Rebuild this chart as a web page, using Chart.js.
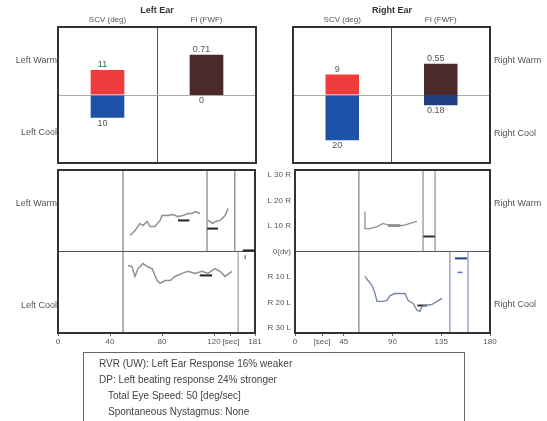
<!DOCTYPE html>
<html>
<head>
<meta charset="utf-8">
<script src="https://cdn.jsdelivr.net/npm/chart.js@4/dist/chart.umd.min.js"></script>
<style>
  body { margin: 0; background: #fff; font-family: "Liberation Sans", Arial, sans-serif; }
  #wrap { position: relative; width: 547px; height: 421px; overflow: hidden; }
  canvas { position: absolute; left: 0; top: 0; }
  .lbl { position: absolute; font-size: 9px; color: #555; white-space: nowrap; line-height: 10px; }
  .ttl { position: absolute; font-size: 9px; font-weight: bold; color: #333; transform: translateX(-50%); line-height: 10px; }
  #info { position: absolute; left: 83px; top: 352px; width: 382px; height: 75px; border: 1px solid #666;
          font-size: 10px; color: #444; line-height: 16px; padding: 3px 0 0 15px; box-sizing: border-box; }
</style>
</head>
<body>
<div id="wrap">
  <canvas id="topLeft" width="547" height="421"></canvas>
  <canvas id="topRight" width="547" height="421"></canvas>
  <canvas id="botLeft" width="547" height="421"></canvas>
  <canvas id="botRight" width="547" height="421"></canvas>

  <div class="ttl" style="left:157px;top:5px">Left Ear</div>
  <div class="ttl" style="left:392px;top:5px">Right Ear</div>
  <div class="lbl" style="right:490px;top:55px">Left Warm</div>
  <div class="lbl" style="right:490px;top:127px">Left Cool</div>
  <div class="lbl" style="left:494px;top:55px">Right Warm</div>
  <div class="lbl" style="left:494px;top:128px">Right Cool</div>
  <div class="lbl" style="right:490px;top:198px">Left Warm</div>
  <div class="lbl" style="right:490px;top:300px">Left Cool</div>
  <div class="lbl" style="left:494px;top:198px">Right Warm</div>
  <div class="lbl" style="left:494px;top:299px">Right Cool</div>

  <div id="info">
    RVR (UW): Left Ear Response 16% weaker<br>
    DP: Left beating response 24% stronger<br>
    <span style="padding-left:9px">Total Eye Speed: 50 [deg/sec]</span><br>
    <span style="padding-left:9px">Spontaneous Nystagmus: None</span>
  </div>
</div>

<script>
// top panels: SCV (deg) and FI (FWF), warm up / cool down
const earCategories = ['SCV (deg)', 'FI (FWF)'];
const leftWarm = [11, 0.71];
const leftCool = [10, 0];
const rightWarm = [9, 0.55];
const rightCool = [20, 0.18];

// bottom panels: eye speed over time
const yTicks = [30, 20, 10, 0, -10, -20, -30];
const yTickLabels = ['L 30 R', 'L 20 R', 'L 10 R', '0(dv)', 'R 10 L', 'R 20 L', 'R 30 L'];
const leftXTicks = [0, 40, 80, 120, 133, 151.5];
const leftXLabels = ['0', '40', '80', '120', '[sec]', '181'];
const rightXTicks = [0, 25, 45, 90, 135, 180];
const rightXLabels = ['0', '[sec]', '45', '90', '135', '180'];

const leftWarmSec1 = [55.4, 59.2, 63, 65.4, 68.5, 70.8, 74.6, 78.5, 80, 84.6, 88.5, 92.3, 96, 100, 103, 105.4, 109.2];
const leftWarmVal1 = [6.3, 8.2, 11, 10.2, 11.8, 9.8, 9.8, 12.2, 14.1, 14.1, 14.5, 13.7, 14.1, 14.9, 14.9, 15.7, 14.9];
const leftWarmSec2 = [115.4, 119, 121, 124.6, 128.5, 130.8];
const leftWarmVal2 = [12.2, 11, 11.8, 12.2, 14.1, 16.9];
const leftCoolSec = [53.8, 56.9, 59.2, 61.5, 65.4, 68.5, 72.3, 76.2, 78.5, 82.3, 86.2, 90, 95.4, 100, 105.4, 110.8, 115.4, 120.8, 124.6, 128.5, 133.8];
const leftCoolVal = [-5.5, -5.9, -9.8, -6.7, -4.7, -5.9, -6.7, -11.4, -12.5, -11.4, -11.4, -9.8, -8.6, -7.8, -8.6, -7.8, -8.6, -6.7, -7.8, -9.8, -7.8];

const rightWarmSec = [64.6, 64.6, 69.2, 75.7, 81.3, 87.7, 94.2, 99.7, 106.2, 112.6];
const rightWarmVal = [15.7, 9, 9, 9.8, 11, 10.2, 10.2, 10.2, 11, 11.8];
const rightCoolSec = [64.6, 67.4, 71.1, 73.9, 75.7, 81.3, 84.9, 87.7, 92.3, 97, 101.6, 104.3, 109, 112.6, 115.4, 117.3, 120, 126.5, 131.1, 135.7];
const rightCoolVal = [-9.8, -11.4, -13.3, -16.5, -19.6, -19.6, -19.2, -17.3, -16.5, -16.5, -16.5, -19.2, -20.4, -23.1, -23.5, -21.6, -21.2, -20.8, -19.6, -18.4];

// analysis windows (sec) and average markers [from, to, value]
const leftFullLines = [50];
const leftWarmLines = [114.6, 136];
const leftCoolLines = [138.5];
const leftMarks = [[92.3, 101, 12.2], [114.6, 123, 9], [109, 118.5, -9.4], [142, 151.5, 0.4]];
const rightFullLines = [59];
const rightWarmLines = [118.2, 129.3];
const rightCoolLines = [143, 159.7];
const rightMarks = [[86, 97, 10.2], [118.2, 129.3, 5.9], [113, 122, -21.2], [147.7, 158.8, -2.7]];
const rightSmallMarks = [[150, 154.6, -8.2]];

Chart.defaults.font.family = '"Liberation Sans", Arial, sans-serif';
Chart.defaults.font.size = 8;
Chart.defaults.color = '#555';

const frame = {
  id: 'frame',
  afterDraw(chart) {
    const { ctx, chartArea: a } = chart;
    ctx.save();
    ctx.strokeStyle = '#333';
    ctx.lineWidth = 2;
    ctx.strokeRect(a.left, a.top, a.right - a.left, a.bottom - a.top);
    ctx.restore();
  }
};

// value text above warm bars and below cool bars
const barValues = {
  id: 'barValues',
  afterDatasetsDraw(chart) {
    const ctx = chart.ctx;
    ctx.save();
    ctx.font = '9px "Liberation Sans", Arial, sans-serif';
    ctx.fillStyle = '#555';
    ctx.textAlign = 'center';
    chart.data.datasets.forEach((ds, di) => {
      chart.getDatasetMeta(di).data.forEach((bar, i) => {
        if (ds.data[i] === null) return;
        const txt = String(ds.raw[i]);
        const top = Math.min(bar.y, bar.base), bottom = Math.max(bar.y, bar.base);
        if (ds.warm) {
          ctx.textBaseline = 'bottom';
          ctx.fillText(txt, bar.x - 5, top - 1);
        } else {
          ctx.textBaseline = 'top';
          ctx.fillText(txt, bar.x - 5, bottom + 1);
        }
      });
    });
    ctx.restore();
  }
};

function earChart(id, warm, cool, left, right, fiCoolColor) {
  new Chart(document.getElementById(id), {
    type: 'bar',
    data: {
      labels: earCategories,
      datasets: [
        { data: [warm[0], null], raw: warm, warm: true, backgroundColor: '#ef3c3c', yAxisID: 'y' },
        { data: [-cool[0], null], raw: cool, warm: false, backgroundColor: '#1c52a8', yAxisID: 'y' },
        { data: [null, warm[1]], raw: warm, warm: true, backgroundColor: '#4b2a29', yAxisID: 'yFI' },
        { data: [null, -cool[1]], raw: cool, warm: false, backgroundColor: fiCoolColor, yAxisID: 'yFI' }
      ]
    },
    options: {
      responsive: false,
      animation: false,
      layout: { padding: { left: left, right: 547 - right, top: 0, bottom: 421 - 163 } },
      datasets: { bar: { grouped: false, barPercentage: 0.34, categoryPercentage: 1, borderWidth: 0 } },
      plugins: { legend: { display: false }, tooltip: { enabled: false } },
      scales: {
        x: {
          position: 'top',
          grid: { offset: true, color: '#555', drawTicks: false },
          border: { display: false },
          ticks: { padding: 2, color: '#555', font: { size: 8 } },
          afterFit: s => { s.height = 27; }
        },
        y: {
          min: -30, max: 30,
          ticks: { display: false },
          grid: { drawTicks: false, color: c => c.tick.value === 0 ? '#aaa' : 'transparent' },
          border: { display: false },
          afterFit: s => { s.width = 0; }
        },
        yFI: { min: -1.2, max: 1.2, display: false }
      }
    },
    plugins: [frame, barValues]
  });
}

earChart('topLeft', leftWarm, leftCool, 58, 256, '#1c52a8');
earChart('topRight', rightWarm, rightCool, 293, 490, '#1f3f82');

function curve(xs, ys, color, width) {
  return { data: xs.map((x, i) => ({ x: x, y: ys[i] })), borderColor: color, borderWidth: width,
           pointRadius: 0, tension: 0, fill: false };
}

function speedChart(id, sets, xTicks, xLabels, xMax, left, right, showY) {
  new Chart(document.getElementById(id), {
    type: 'line',
    data: { datasets: sets },
    options: {
      responsive: false,
      animation: false,
      layout: { padding: { left: showY ? left - 40 : left, right: 547 - right, top: 170, bottom: 421 - 333 - 14 } },
      plugins: { legend: { display: false }, tooltip: { enabled: false } },
      scales: {
        x: {
          type: 'linear', min: 0, max: xMax,
          afterBuildTicks: s => { s.ticks = xTicks.map(v => ({ value: v })); },
          ticks: { autoSkip: false, maxRotation: 0, padding: 1, color: '#555', callback: (v, i) => xLabels[i] },
          grid: { color: 'transparent', tickColor: '#666', tickLength: 3 },
          border: { display: false },
          afterFit: s => { s.height = 14; }
        },
        y: {
          min: -32, max: 32,
          afterBuildTicks: s => { s.ticks = yTicks.map(v => ({ value: v })); },
          ticks: { display: showY, padding: 4, color: '#555', callback: (v, i) => yTickLabels[i] },
          grid: { drawTicks: false, color: c => c.tick.value === 0 ? '#555' : 'transparent' },
          border: { display: false },
          afterFit: s => { s.width = showY ? 40 : 0; }
        }
      }
    },
    plugins: [frame]
  });
}

const leftSets = [
  curve(leftWarmSec1, leftWarmVal1, '#8f8f8f', 1.5),
  curve(leftWarmSec2, leftWarmVal2, '#8f8f8f', 1.5),
  curve(leftCoolSec, leftCoolVal, '#8f8f8f', 1.5)
];
leftFullLines.forEach(x => leftSets.push(curve([x, x], [-32, 32], '#666', 1)));
leftWarmLines.forEach(x => leftSets.push(curve([x, x], [0, 32], '#666', 1)));
leftCoolLines.forEach(x => leftSets.push(curve([x, x], [-32, 0], '#888', 1)));
leftMarks.forEach(m => leftSets.push(curve([m[0], m[1]], [m[2], m[2]], '#222', 2)));
leftSets.push(curve([144, 144], [-1.5, -3], '#888', 1));

const rightSets = [
  curve(rightWarmSec, rightWarmVal, '#8f8f8f', 1.3),
  curve(rightCoolSec, rightCoolVal, '#7282a8', 1.3)
];
rightFullLines.forEach(x => rightSets.push(curve([x, x], [-32, 32], '#666', 1)));
rightWarmLines.forEach(x => rightSets.push(curve([x, x], [0, 32], '#777', 1)));
rightCoolLines.forEach(x => rightSets.push(curve([x, x], [-32, 0], '#6a78c0', 1)));
rightMarks.forEach((m, i) => rightSets.push(curve([m[0], m[1]], [m[2], m[2]], i === 3 ? '#1f3f8f' : '#333', 2)));
rightSmallMarks.forEach(m => rightSets.push(curve([m[0], m[1]], [m[2], m[2]], '#5c74b8', 1.5)));

speedChart('botLeft', leftSets, leftXTicks, leftXLabels, 151.5, 58, 255, false);
speedChart('botRight', rightSets, rightXTicks, rightXLabels, 180, 295, 490, true);
</script>
</body>
</html>
